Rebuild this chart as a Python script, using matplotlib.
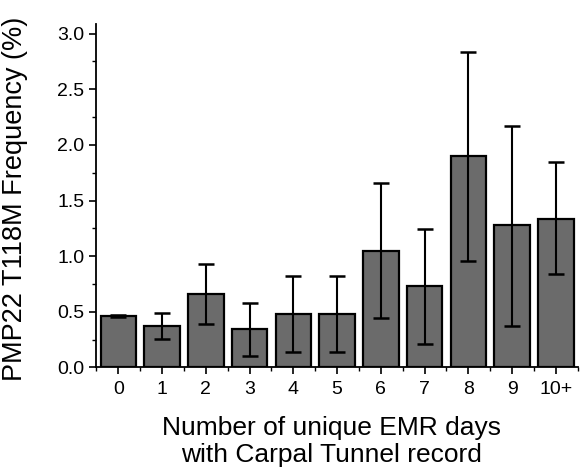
import numpy as np
import matplotlib.pyplot as plt
from matplotlib.ticker import MultipleLocator

plt.rcParams['font.family'] = ['Liberation Sans', 'DejaVu Sans']

# data
categories = ['0', '1', '2', '3', '4', '5', '6', '7', '8', '9', '10+']
freq = [0.463, 0.373, 0.66, 0.343, 0.483, 0.483, 1.05, 0.732, 1.90, 1.278, 1.337]
err_low = [0.45, 0.253, 0.39, 0.10, 0.142, 0.142, 0.447, 0.214, 0.957, 0.376, 0.837]
err_high = [0.475, 0.487, 0.933, 0.582, 0.825, 0.825, 1.658, 1.247, 2.837, 2.173, 1.844]

x = np.arange(len(categories))
freq = np.array(freq)
yerr = [freq - np.array(err_low), np.array(err_high) - freq]

fig = plt.figure(figsize=(5.83, 4.74), dpi=100)
ax = fig.add_axes([0.164, 0.2247, 0.827, 0.7243])

ax.bar(x, freq, width=0.81, color='#6b6b6b', edgecolor='black', linewidth=1.6, zorder=2)
ax.errorbar(x, freq, yerr=yerr, fmt='none', ecolor='black', elinewidth=1.5,
            capsize=6, capthick=1.8, zorder=3)

ax.set_xlim(-0.52, 10.5)
ax.set_ylim(0, 3.085)
ax.set_xticks(x)
ax.set_xticklabels(categories)
ax.xaxis.set_minor_locator(MultipleLocator(0.5))
ax.yaxis.set_major_locator(MultipleLocator(0.5))
ax.yaxis.set_minor_locator(MultipleLocator(0.25))
ax.yaxis.set_major_formatter(plt.FormatStrFormatter('%.1f'))

for s in ['top', 'right']:
    ax.spines[s].set_visible(False)
for s in ['left', 'bottom']:
    ax.spines[s].set_linewidth(1.3)

ax.tick_params(axis='both', which='major', direction='out', length=5, width=1.2,
               labelsize=14)
ax.tick_params(axis='x', which='major', pad=5)
ax.tick_params(axis='y', which='major', pad=3)
ax.tick_params(axis='both', which='minor', direction='out', length=3, width=1.0)

ax.set_ylabel('PMP22 T118M Frequency (%)', fontsize=19.5)
ax.yaxis.set_label_coords(-0.14, 0.49)
ax.set_xlabel('Number of unique EMR days\nwith Carpal Tunnel record', fontsize=19,
              linespacing=1.2)
ax.xaxis.set_label_coords(0.49, -0.14)

fig.savefig('out.png', dpi=100)
